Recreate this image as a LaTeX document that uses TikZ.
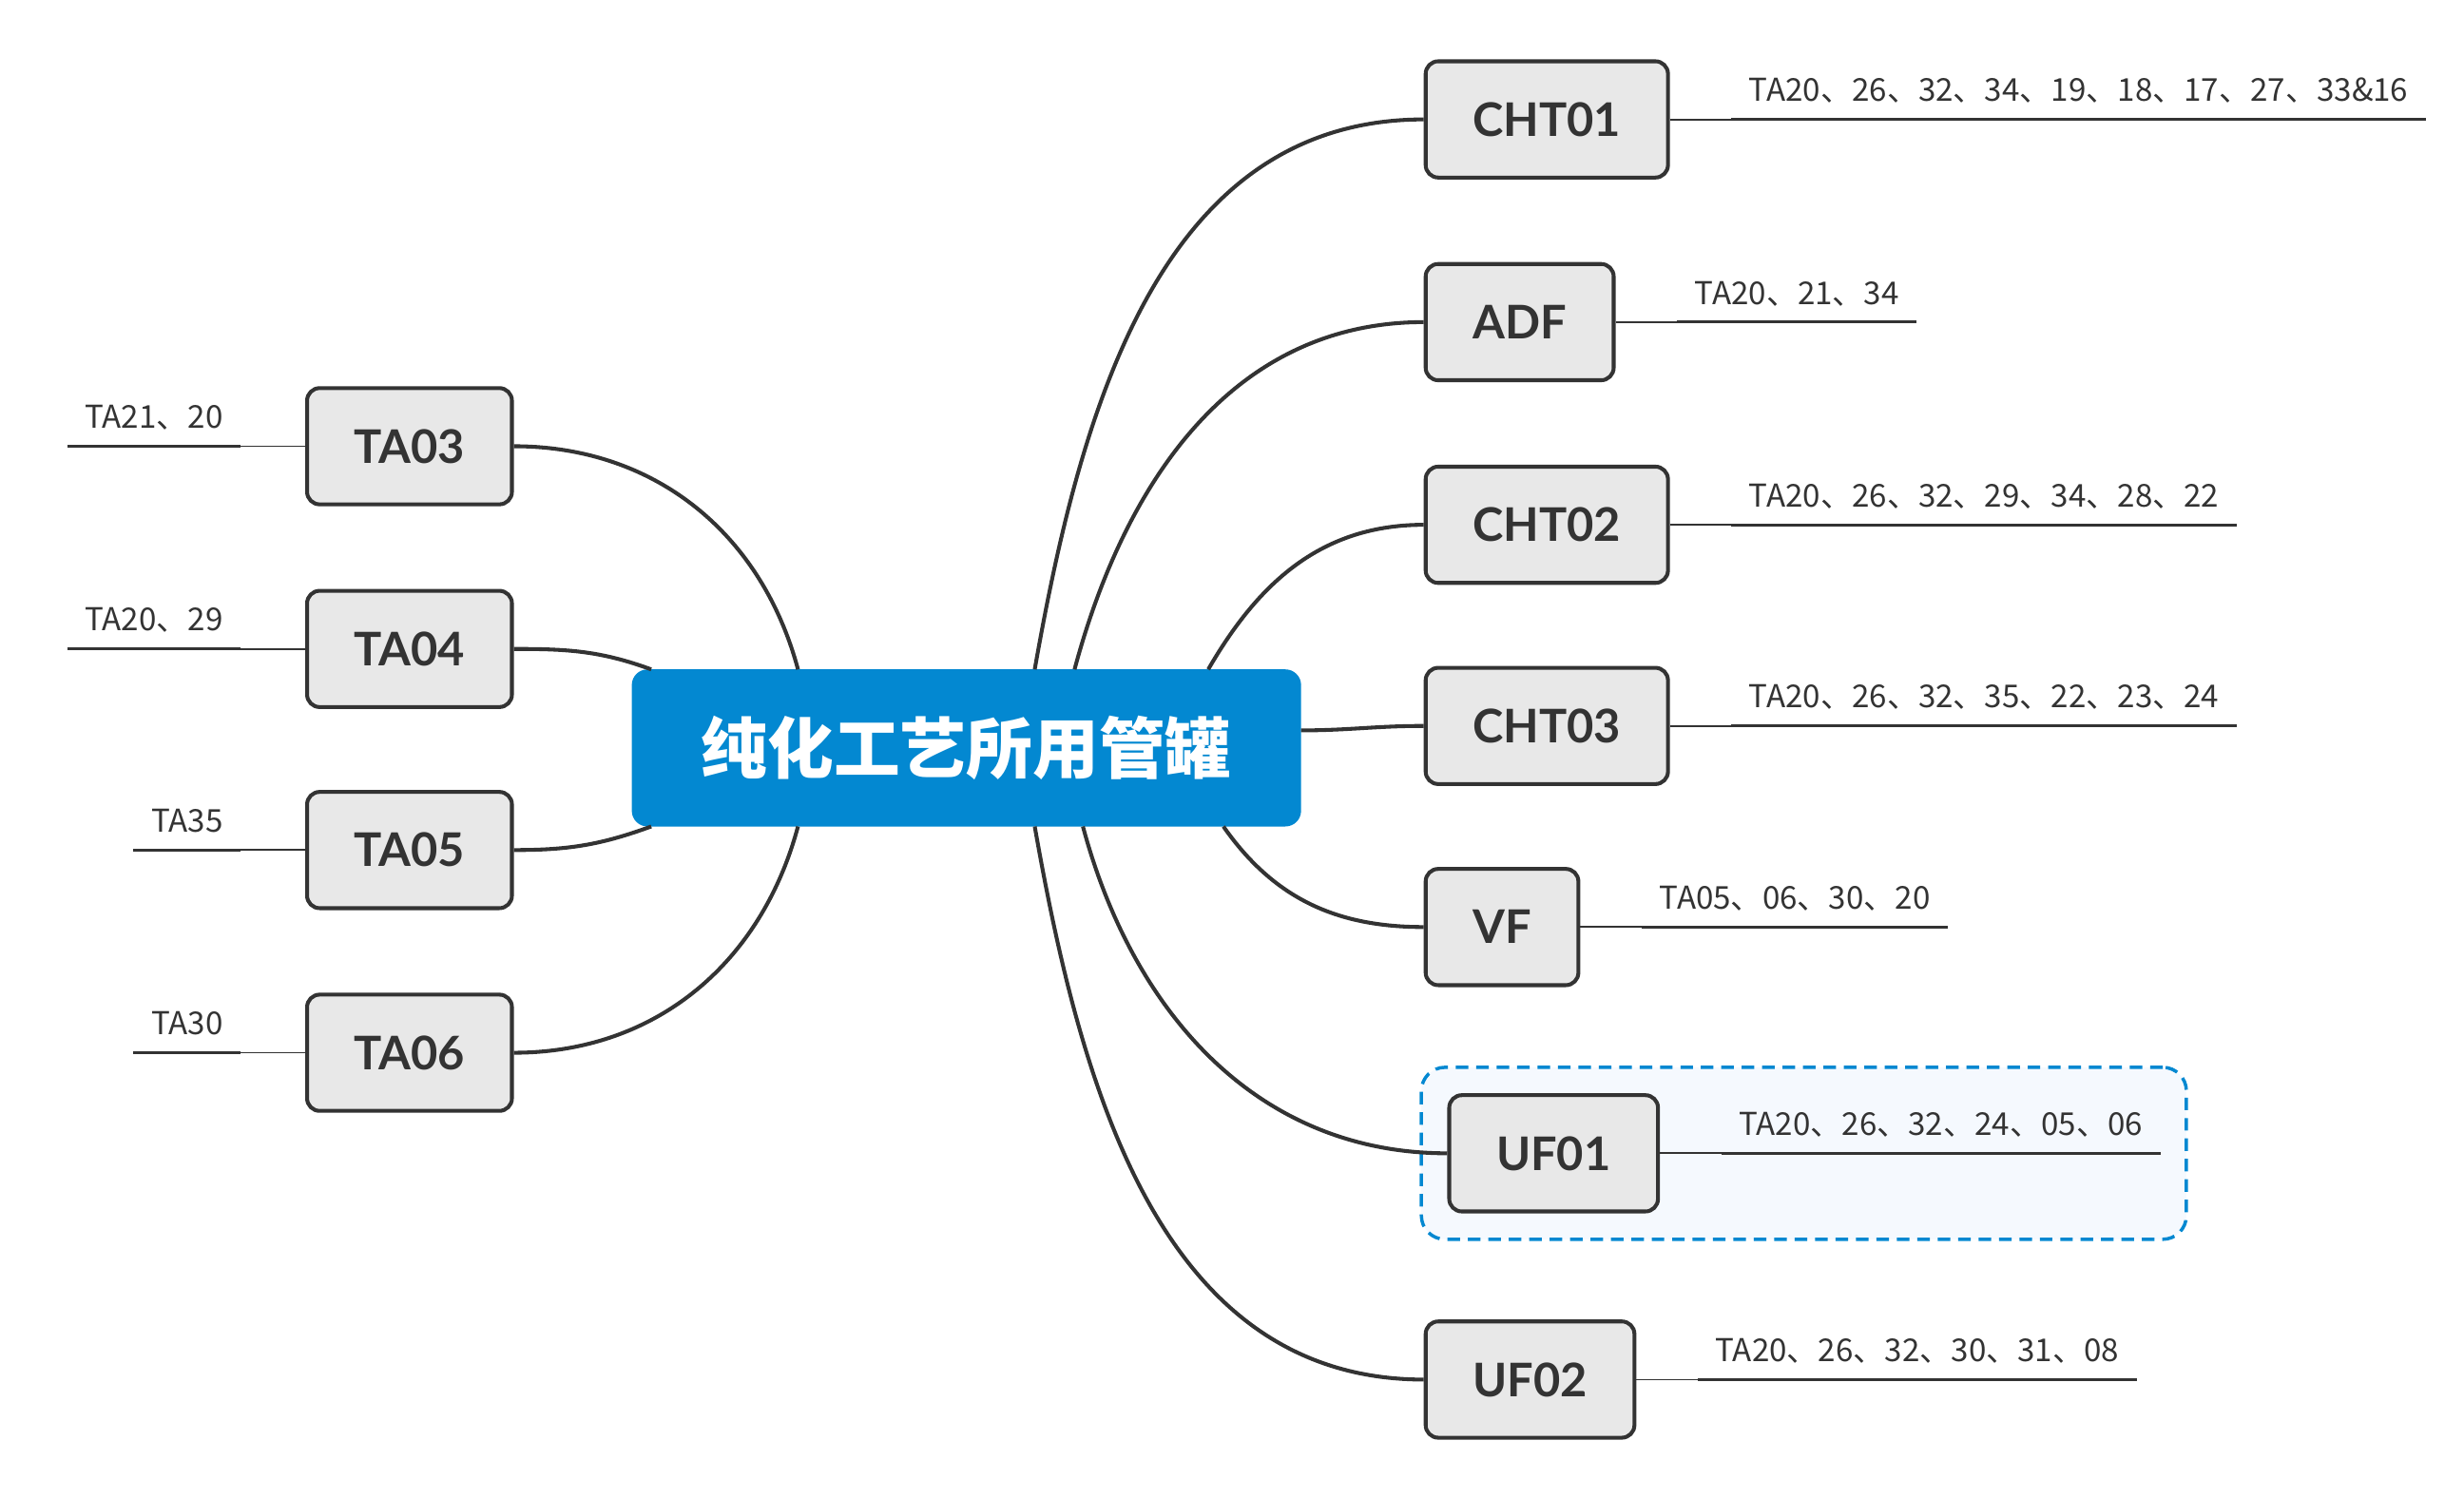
\documentclass[tikz,border=0pt]{standalone}
\usepackage{fontspec}
\usetikzlibrary{positioning,fit,backgrounds}
\newfontfamily\cjk{Noto Sans CJK SC}
\newfontfamily\boxfont{Lato}
\definecolor{rootblue}{HTML}{0388D1}
\definecolor{boxgray}{HTML}{E8E8E8}
\definecolor{ink}{HTML}{333333}
\definecolor{paleblue}{HTML}{F5F9FE}
\tikzset{root/.style={fill=rootblue, rounded corners=0.2cm, minimum width=8.52cm, minimum height=2cm, inner sep=0pt, outer sep=0pt, text=white, font=\cjk\bfseries\fontsize{24}{28}\selectfont},
tank/.style={draw=ink, fill=boxgray, line width=1.4pt, rounded corners=0.16cm, minimum height=1.48cm, inner xsep=0.6cm, text=ink, font=\boxfont\bfseries\fontsize{16.8}{19}\selectfont},
note/.style={inner xsep=0.22cm, inner ysep=0.22cm, text depth=0pt, text=ink, font=\cjk\fontsize{11.4}{13}\selectfont},
branch/.style={ink, line width=1.4pt},
focus/.style={draw=rootblue, fill=paleblue, line width=1.2pt, dash pattern=on 0.16cm off 0.1cm, rounded corners=0.3cm, inner sep=0.33cm}}

\begin{document}
\begin{tikzpicture}[x=0.02cm, y=-0.02cm]
\useasboundingbox (0,0) rectangle (1568,953);

% centre
\node[root] (root) at (615,476) {纯化工艺所用管罐};

% right side
\foreach \n/\x/\y/\txt/\st/\bend/\lab in {cht01/906/76/CHT01/49/80/{TA20、26、32、34、19、18、17、27、33\&16},
  adf/906/205/ADF/36/75/{TA20、21、34},
  cht02/906/334/CHT02/18/60/{TA20、26、32、29、34、28、22},
  cht03/906/462/CHT03/3.5/0/{TA20、26、32、35、22、23、24},
  vf/906/590/VF/-17/-55/{TA05、06、30、20},
  uf01/921/734/UF01/-34/-75/{TA20、26、32、24、05、06},
  uf02/906/878/UF02/-49/-80/{TA20、26、32、30、31、08}}
{
  \node[tank, anchor=west] (\n) at (\x,\y) {\txt};
  \node[note, above right=0pt and 0.78cm of \n.east] (l\n) {\lab};
  \draw[ink, line width=0.6pt] (\n.east) -- (l\n.south west);
  \draw[ink, line width=1.1pt] (l\n.south west) -- (l\n.south east);
  \draw[branch] (root.\st) to[out=\bend, in=180] (\n.west);
}

% left side
\foreach \n/\y/\txt/\st/\bend/\lab in {ta03/284/TA03/155/105/{TA21、20},
  ta04/413/TA04/166/160/{TA20、29},
  ta05/541/TA05/-166/-160/{TA35},
  ta06/670/TA06/-155/-105/{TA30}}
{
  \node[tank, anchor=east] (\n) at (327,\y) {\txt};
  \node[note, above left=0pt and 0.82cm of \n.west] (l\n) {\lab};
  \draw[ink, line width=0.6pt] (\n.west) -- (l\n.south east);
  \draw[ink, line width=1.1pt] (l\n.south east) -- (l\n.south west);
  \draw[branch] (root.\st) to[out=\bend, in=0] (\n.east);
}

%highlight
\begin{pgfonlayer}{background}
\node[focus, fit=(uf01)(luf01)] (mark) {};
\end{pgfonlayer}

\end{tikzpicture}
\end{document}
